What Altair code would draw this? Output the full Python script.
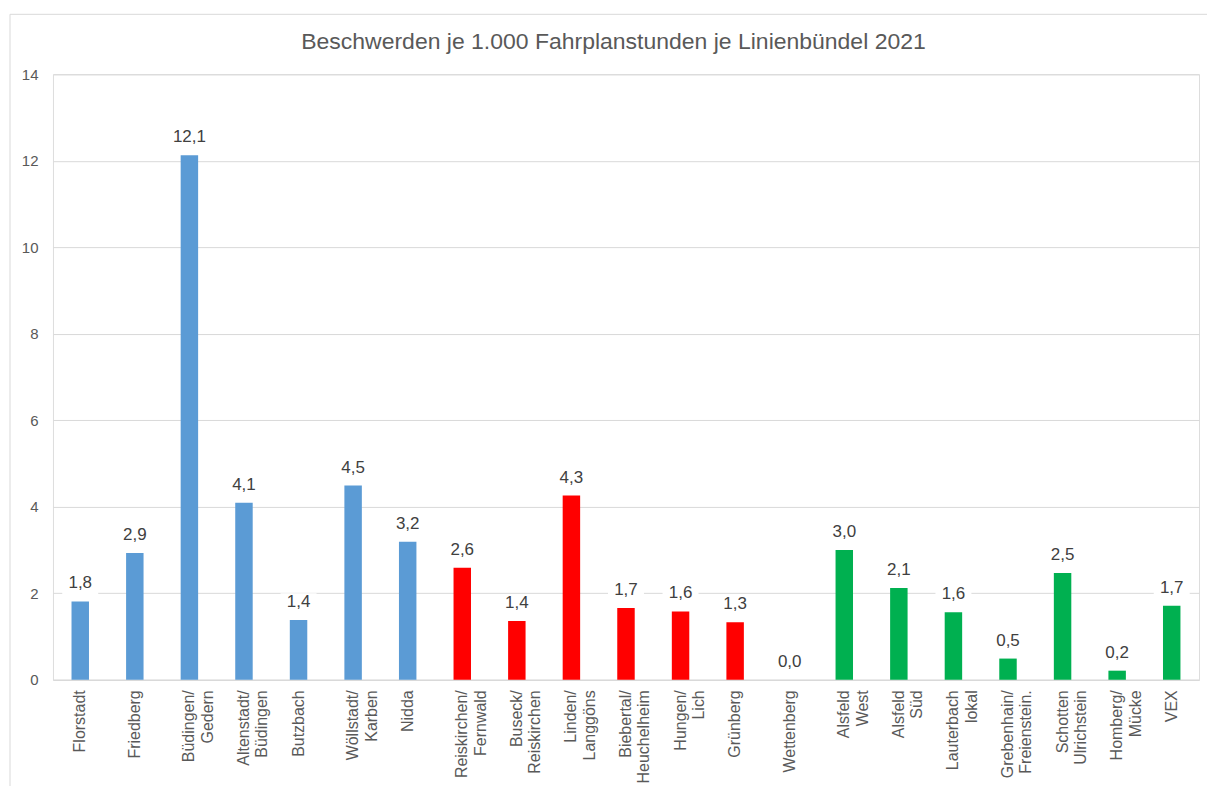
import altair as alt
import pandas as pd

# ---- data ----
title_text = "Beschwerden je 1.000 Fahrplanstunden je Linienbündel 2021"
categories = [
    "Florstadt", "Friedberg", "Büdingen/\nGedern", "Altenstadt/\nBüdingen", "Butzbach",
    "Wöllstadt/\nKarben", "Nidda", "Reiskirchen/\nFernwald", "Buseck/\nReiskirchen",
    "Linden/\nLanggöns", "Biebertal/\nHeuchelheim", "Hungen/\nLich", "Grünberg",
    "Wettenberg", "Alsfeld\nWest", "Alsfeld\nSüd", "Lauterbach\nlokal",
    "Grebenhain/\nFreienstein.", "Schotten\nUlrichstein", "Homberg/\nMücke", "VEX",
]
values = [1.81, 2.93, 12.13, 4.09, 1.38, 4.49, 3.19, 2.59, 1.36, 4.26, 1.66,
          1.58, 1.33, 0.0, 3.0, 2.12, 1.56, 0.49, 2.47, 0.21, 1.71]
groups = ["A"] * 7 + ["B"] * 7 + ["C"] * 7
group_colors = ["#5B9BD5", "#FF0000", "#00B050"]

# ---- approximate Arial glyph widths (em) to center two-line labels ----
W = {c: 0.556 for c in "abdeghnopquüöä"}
W.update({"c": 0.5, "k": 0.5, "s": 0.5, "v": 0.5, "x": 0.5, "y": 0.5, "z": 0.5,
          "f": 0.278, "t": 0.278, "i": 0.222, "j": 0.222, "l": 0.222, "m": 0.833,
          "r": 0.333, "w": 0.722, "/": 0.278, ".": 0.278, " ": 0.278,
          "A": 0.667, "B": 0.667, "C": 0.722, "D": 0.722, "E": 0.667, "F": 0.611,
          "G": 0.778, "H": 0.722, "I": 0.278, "K": 0.667, "L": 0.556, "M": 0.833,
          "N": 0.722, "R": 0.722, "S": 0.667, "U": 0.722, "V": 0.667, "W": 0.944,
          "X": 0.667})


def tw(s):
    return sum(W.get(ch, 0.556) for ch in s)


NB = "\u00a0"
labels = []
for c in categories:
    parts = c.split("\n")
    if len(parts) == 2:
        mx = max(tw(p) for p in parts)
        parts = [p + NB * int(round((mx - tw(p)) / 2 / 0.278)) for p in parts]
    labels.append("|".join(parts))

df = pd.DataFrame({"label": labels, "value": values, "group": groups})
tdf = pd.DataFrame({"t": [title_text]})

FONT = "Liberation Sans"
PW, PH = 1147, 606

x = alt.X("label:N", sort=labels, title=None,
          scale=alt.Scale(paddingInner=0.68, paddingOuter=0.34),
          axis=alt.Axis(labelExpr="split(datum.value, '|')", labelAngle=-90,
                        labelAlign="right", labelBaseline="middle",
                        labelFontSize=16, labelLineHeight=18.5, labelColor="#595959",
                        labelPadding=10, ticks=False, domainColor="#d9d9d9",
                        labelFont=FONT))
y = alt.Y("value:Q", title=None,
          scale=alt.Scale(domain=[0, 14], nice=False),
          axis=alt.Axis(values=list(range(0, 15, 2)), domain=False, ticks=False,
                        gridColor="#d9d9d9", labelColor="#595959", labelFontSize=15,
                        labelPadding=15, labelFont=FONT))

base = alt.Chart(df)

bars = base.mark_bar().encode(
    x=x, y=y,
    color=alt.Color("group:N", scale=alt.Scale(domain=["A", "B", "C"], range=group_colors),
                    legend=None),
)

boxes = base.transform_calculate(
    lo="datum.value + 0.12", hi="datum.value + 0.62"
).mark_bar(color="white", width=36).encode(
    x=alt.X("label:N", sort=labels), y="lo:Q", y2="hi:Q"
)

texts = base.transform_calculate(
    txt="replace(format(datum.value, '.1f'), '.', ',')"
).mark_text(baseline="bottom", dy=-9, fontSize=17, color="#404040", font=FONT).encode(
    x=alt.X("label:N", sort=labels), y="value:Q", text="txt:N"
)

title = alt.Chart(tdf).mark_text(
    fontSize=23, font=FONT, color="#595959", baseline="middle", align="center"
).encode(x=alt.value(561), y=alt.value(-32), text="t:N")

border_left = alt.Chart(tdf).mark_rule(color="#d9d9d9", strokeWidth=1).encode(
    x=alt.value(-43), y=alt.value(-60), y2=alt.value(PH + 120)
)
border_top = alt.Chart(tdf).mark_rule(color="#d9d9d9", strokeWidth=1).encode(
    x=alt.value(-43), x2=alt.value(PW + 30), y=alt.value(-60)
)

chart = alt.layer(border_left, border_top, bars, boxes, texts, title).properties(
    width=PW, height=PH,
    autosize=alt.AutoSizeParams(type="none"),
    padding={"left": 45, "top": 66, "right": 8, "bottom": 106},
).configure_view(stroke=None).configure(background="white")

chart.save("out.html", embed_options={"renderer": "svg", "actions": False})
